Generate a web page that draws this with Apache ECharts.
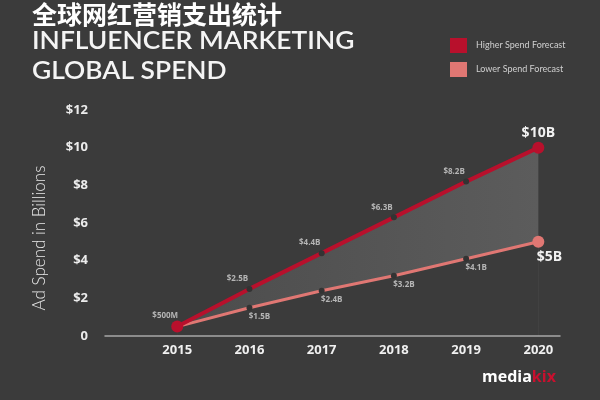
<!DOCTYPE html>
<html>
<head>
<meta charset="utf-8">
<script src="https://cdn.jsdelivr.net/npm/echarts@6/dist/echarts.min.js"></script>
<style>html,body{margin:0;padding:0;background:#3b3b3b;}#main{width:600px;height:400px;}</style>
</head>
<body>
<div id="main"></div>
<script>
const years = [2015, 2016, 2017, 2018, 2019, 2020];
const higher = [0.5, 2.5, 4.4, 6.3, 8.2, 10];
const lower = [0.5, 1.5, 2.4, 3.2, 4.1, 5];
const higherLabels = ['$500M', '$2.5B', '$4.4B', '$6.3B', '$8.2B', '$10B'];
const lowerLabels = ['', '$1.5B', '$2.4B', '$3.2B', '$4.1B', '$5B'];
const seriesNames = ['Higher Spend Forecast', 'Lower Spend Forecast'];
const titleCn = '全球网红营销支出统计';
const titleEn1 = 'INFLUENCER MARKETING';
const titleEn2 = 'GLOBAL SPEND';
const yAxisName = 'Ad Spend in Billions';

const BG = '#3b3b3b';
const RED = '#b8102c';
const PINK = '#e07773';
const last = years.length - 1;

const smallLabel = {fontFamily: 'Open Sans', fontWeight: 'bold', fontSize: 8, color: '#b5b5b5'};
const bigLabel = {fontFamily: 'Open Sans', fontWeight: 'bold', fontSize: 14, color: '#f2f2f2'};

const highData = higher.map((v, i) => {
  const end = (i === 0 || i === last);
  return {
    value: [years[i], v],
    symbolSize: end ? 12 : 6,
    itemStyle: {color: end ? RED : '#333'},
    label: Object.assign({
      show: true,
      formatter: higherLabels[i],
      position: 'top',
      distance: i === last ? 2 : (i === 0 ? 1 : 3),
      offset: [i === last ? 0 : -12, 0]
    }, i === last ? bigLabel : smallLabel)
  };
});
const lowData = lower.map((v, i) => {
  const end = (i === last);
  return {
    value: [years[i], v],
    symbolSize: end ? 12 : (i === 0 ? 0 : 6),
    itemStyle: {color: end ? PINK : '#333'},
    label: Object.assign({
      show: lowerLabels[i] !== '',
      formatter: lowerLabels[i],
      position: 'bottom',
      distance: 2,
      offset: [i === last ? 11 : 10, 0]
    }, end ? bigLabel : smallLabel)
  };
});
const highArea = higher.map((v, i) => [years[i], v]);
const lowArea = lower.map((v, i) => [years[i], v]);

const chart = echarts.init(document.getElementById('main'));
chart.setOption({
  backgroundColor: BG,
  animation: false,
  grid: {left: 105, right: 40, top: 110, bottom: 64},
  legend: {
    data: seriesNames,
    orient: 'vertical',
    left: 445, top: 33,
    icon: 'rect',
    itemWidth: 17, itemHeight: 15, itemGap: 9,
    textStyle: {fontFamily: 'Lato', fontSize: 9, color: '#d0d0d0', padding: [0, 0, 0, 4]}
  },
  xAxis: {
    type: 'value', min: 2014, max: 2020.3, interval: 1, z: 10,
    splitLine: {show: false},
    axisLine: {show: true, lineStyle: {color: '#a8a8a8', width: 1.5}},
    axisTick: {show: false},
    axisLabel: {
      margin: 8,
      fontFamily: 'Open Sans', fontWeight: 'bold', fontSize: 13, color: '#f0f0f0',
      formatter: v => years.indexOf(v) >= 0 ? String(v) : ''
    }
  },
  yAxis: {
    type: 'value', min: 0, max: 12, interval: 2,
    splitLine: {show: false},
    axisLine: {show: false},
    axisTick: {show: false},
    axisLabel: {
      margin: 17,
      fontFamily: 'Open Sans', fontWeight: 'bold', fontSize: 13, color: '#ececec',
      formatter: v => v === 0 ? '0' : '$' + v
    }
  },
  graphic: [
    {type: 'text', left: 32, top: 2, style: {text: titleCn, fill: '#ffffff', font: 'bold 25px "Noto Sans CJK SC"'}},
    {type: 'text', x: 32, y: 29, scaleX: 1.1, style: {text: titleEn1, fill: '#f4f4f4', font: '600 24px Lato'}},
    {type: 'text', x: 32, y: 59, scaleX: 1.1, style: {text: titleEn2, fill: '#f4f4f4', font: '600 24px Lato'}},
    {type: 'text', x: 40, y: 238, rotation: Math.PI / 2,
      style: {text: yAxisName, fill: '#e8e8e8', font: '300 17px Lato', align: 'center', verticalAlign: 'middle'}},
    {type: 'text', left: 482, top: 369,
      style: {text: '{a|media}{b|kix}', rich: {
        a: {fill: '#ffffff', font: 'bold 16px "Open Sans"'},
        b: {fill: '#c8102e', font: 'bold 16px "Open Sans"'}
      }}}
  ],
  series: [
    {
      name: 'area-high', type: 'line', data: highArea, z: 1,
      symbol: 'none', lineStyle: {opacity: 0}, silent: true,
      areaStyle: {
        opacity: 1,
        color: new echarts.graphic.LinearGradient(0, 0, 1, 0, [
          {offset: 0, color: '#4c4c4c'}, {offset: 1, color: '#5c5c5c'}
        ])
      }
    },
    {
      name: 'area-low', type: 'line', data: lowArea, z: 1,
      symbol: 'none', lineStyle: {opacity: 0}, silent: true,
      areaStyle: {opacity: 1, color: BG}
    },
    {
      name: seriesNames[1], type: 'line', data: lowData, z: 3,
      symbol: 'circle',
      lineStyle: {color: PINK, width: 3},
      itemStyle: {color: PINK}
    },
    {
      name: seriesNames[0], type: 'line', data: highData, z: 4,
      symbol: 'circle',
      lineStyle: {color: RED, width: 4},
      itemStyle: {color: RED}
    }
  ]
});
</script>
</body>
</html>
